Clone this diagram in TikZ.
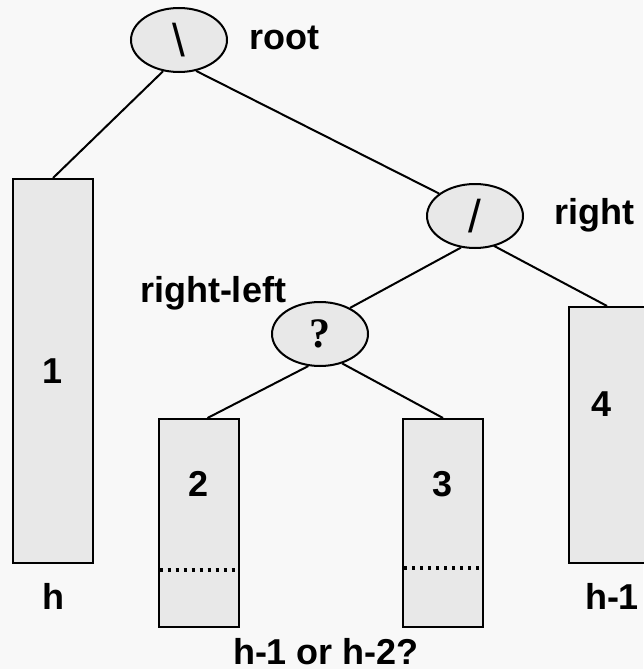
\documentclass[tikz,border=0pt]{standalone}
\usepackage{fontspec}
\setmainfont{Liberation Sans}
\newfontfamily\qfont{Liberation Serif}
\usetikzlibrary{positioning, shapes.geometric}
\definecolor{paper}{rgb}{0.973,0.973,0.973}
\definecolor{shade}{rgb}{0.91,0.91,0.91}

\begin{document}
\begin{tikzpicture}[
  x=1pt, y=-1pt,
  tree node/.style={
    ellipse,
    draw,
    fill=shade,
    line width=2pt,
    inner sep=0mm,
    minimum width=96pt,
    minimum height=64pt,
    font=\fontsize{46}{50}\selectfont
  },
  sub tree/.style={
    draw,
    fill=shade,
    line width=2pt,
    inner sep=0mm,
    minimum width=80pt
  },
  tag/.style={
    anchor=base,
    inner sep=0mm,
    font=\fontsize{36}{40}\selectfont\bfseries
  },
  tree edge/.style={
    line width=2pt
  },
  height line/.style={
    line width=3.4pt,
    dash pattern=on 3pt off 5pt
  }
]

\fill[paper] (0,0) rectangle (643,669);
\useasboundingbox (0,0) rectangle (643,669);

\node(nroot)[tree node] at (179,40) {\textbackslash};
\node(nright)[tree node] at (475,216) {/};
\node(nrl)[tree node, font=\fontsize{42}{46}\selectfont\qfont\bfseries] at (320,334) {?};

\node(b1)[sub tree, minimum height=384pt] at (53,371) {};
\node(b2)[sub tree, minimum height=208pt] at (198.5,523) {};
\node(b3)[sub tree, minimum height=208pt] at (443,523) {};
\node(b4)[sub tree, minimum height=256pt] at (609,435) {};

\node(n1)[tag, anchor=center] at (b1.center) {1};
\node(n2)[tag] at ([yshift=-78pt]b2.north) {2};
\node(n3)[tag] at ([yshift=-78pt]b3.north) {3};
\node(n4)[tag] at ([xshift=-7pt, yshift=-110pt]b4.north) {4};

\node(troot)[tag] at (284,49) {root};
\node(tright)[tag] at (594,224) {right};
\node(trl)[tag] at (213,302) {right-left};

\node(hl)[tag] at ([yshift=-45pt]b1.south) {h};
\node(hr)[tag] at ([xshift=3pt, yshift=-45pt]b4.south) {h-1};
\node(hm)[tag] at (326,664) {h-1 or h-2?};

\draw[tree edge] (nroot.243) -- (b1.north);
\draw[tree edge] (nroot.299) -- (nright.148);
\draw[tree edge] (nright.246) -- (nrl.41);
\draw[tree edge] ([xshift=-2pt]nright.305) -- ([xshift=-2pt]b4.north);
\draw[tree edge] (nrl.250) -- ([xshift=9pt]b2.north);
\draw[tree edge] (nrl.307) -- (b3.north);

\draw[height line] ([xshift=2pt, yshift=58pt]b2.south west) -- ([xshift=-2pt, yshift=58pt]b2.south east);
\draw[height line] ([xshift=2pt, yshift=60pt]b3.south west) -- ([xshift=-2pt, yshift=60pt]b3.south east);

\end{tikzpicture}
\end{document}
